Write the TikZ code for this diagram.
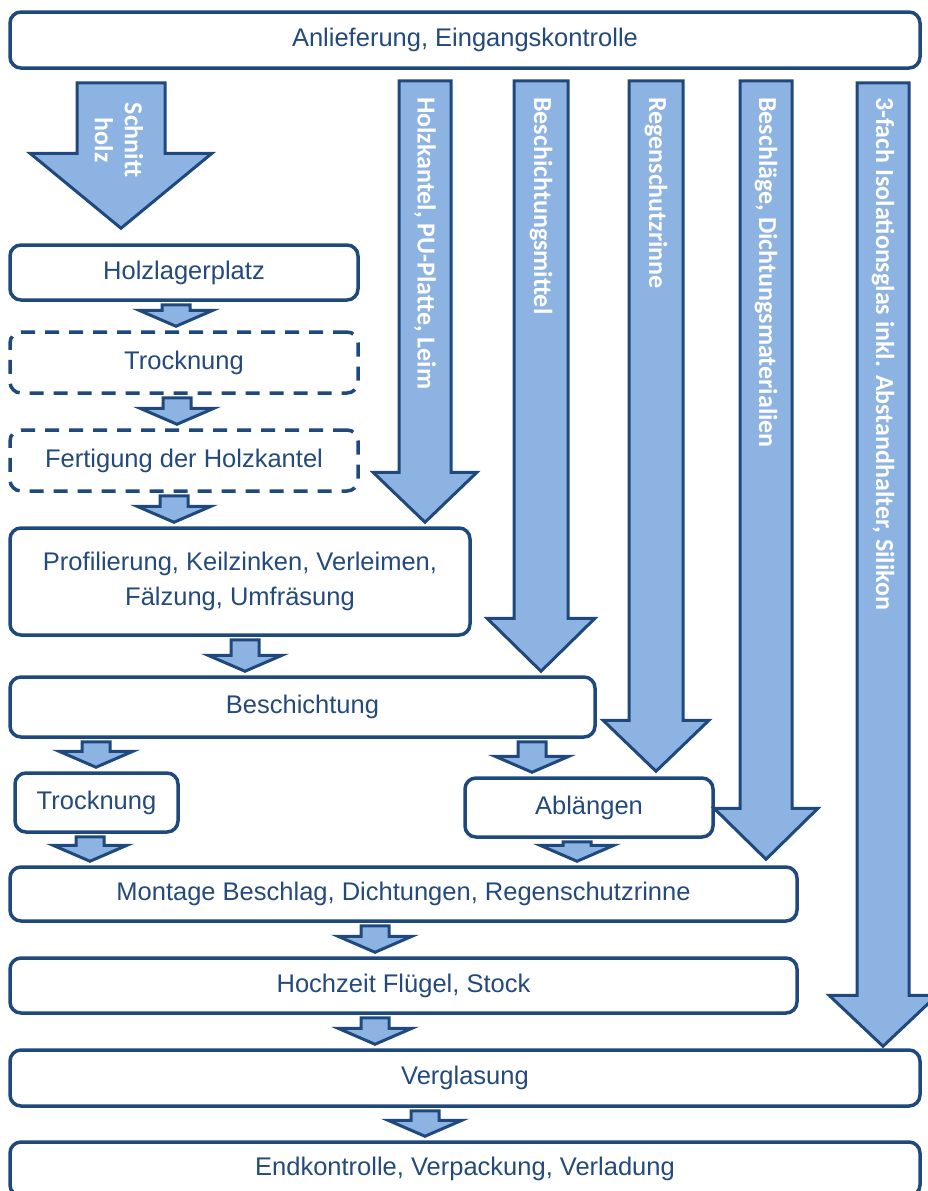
\documentclass[tikz,border=0pt]{standalone}
\usepackage{fontspec}
\setmainfont{Liberation Sans}
\newfontfamily\labelfont{Carlito}
\usetikzlibrary{calc,positioning}

\definecolor{boxblue}{RGB}{31,73,125}
\definecolor{textblue}{RGB}{36,74,124}
\definecolor{arrowblue}{RGB}{141,179,226}

% block arrow: x, from node, to node, top gap, tip gap, shaft half width, head half width, head length
\newcommand{\blockarrow}[8]{%
  \draw[arrowbody] ($(#1,0 |- #2.south)+(-#6,#4)$) -- ++(2*#6,0)
    -- ($(#1,0 |- #3.north)+(#6,-#5-#8)$) -- ++(#7-#6,0)
    -- ($(#1,0 |- #3.north)+(0,-#5)$)
    -- ($(#1,0 |- #3.north)+(-#7,-#5-#8)$) -- ++(#7-#6,0) -- cycle;}
\newcommand{\flowarrow}[3]{\blockarrow{#1}{#2}{#3}{3}{4}{14}{37}{16}}

\begin{document}
\begin{tikzpicture}[x=1pt,y=-1pt]
\tikzstyle{stepbox}=[draw=boxblue,line width=3.5pt,rounded corners=11pt,fill=white,text=textblue,inner sep=0pt,align=center,font=\fontsize{25.5}{35}\selectfont]
\tikzstyle{dashbox}=[stepbox,dash pattern=on 14pt off 10pt]
\tikzstyle{arrowbody}=[draw=boxblue,fill=arrowblue,line width=3pt]
\tikzstyle{arrowtext}=[text=white,rotate=-90,inner sep=0pt,align=center,font=\labelfont\bfseries\fontsize{26}{30}\selectfont]

\useasboundingbox (0,0) rectangle (928,1191);

% process steps
\node[stepbox,minimum width=910pt,minimum height=56pt] (anl) at (465,40) {Anlieferung, Eingangskontrolle};
\node[stepbox,minimum width=348pt,minimum height=55pt] (hlp) at (184,272.5) {Holzlagerplatz};
\node[dashbox,minimum width=348pt,minimum height=61pt] (trk1) at (184,362.5) {Trocknung};
\node[dashbox,minimum width=348pt,minimum height=61pt] (fhk) at (184,460.5) {Fertigung der Holzkantel};
\node[stepbox,minimum width=460pt,minimum height=107pt] (prf) at (240,581.5) {Profilierung, Keilzinken, Verleimen,\\Fälzung, Umfräsung};
\node[stepbox,minimum width=585pt,minimum height=60pt] (bes) at (302.5,707) {Beschichtung};
\node[stepbox,minimum width=163pt,minimum height=59pt] (trk2) at (96.5,802.5) {Trocknung};
\node[stepbox,minimum width=248pt,minimum height=59pt] (abl) at (589,807.5) {Ablängen};
\node[stepbox,minimum width=787pt,minimum height=54pt] (mon) at (403.5,894) {Montage Beschlag, Dichtungen, Regenschutzrinne};
\node[stepbox,minimum width=787pt,minimum height=55pt] (hoz) at (403.5,985.5) {Hochzeit Flügel, Stock};
\node[stepbox,minimum width=910pt,minimum height=56pt] (vgl) at (465,1078) {Verglasung};
\node[stepbox,minimum width=910pt,minimum height=54pt] (end) at (465,1169) {Endkontrolle, Verpackung, Verladung};

% material arrows
\blockarrow{121}{anl}{hlp}{13}{15}{44}{91}{75}
\blockarrow{425}{anl}{prf}{11}{4}{26}{52}{50}
\blockarrow{541}{anl}{bes}{11}{4}{27}{54}{53}
\blockarrow{656}{anl}{abl}{11}{5}{27}{53}{51}
\blockarrow{766}{anl}{mon}{11}{6}{26}{52}{51}
\blockarrow{883}{anl}{vgl}{13}{2}{26}{54}{51}

% flow arrows
\flowarrow{176}{hlp}{trk1}
\flowarrow{177}{trk1}{fhk}
\flowarrow{174}{fhk}{prf}
\flowarrow{245}{prf}{bes}
\flowarrow{96}{bes}{trk2}
\flowarrow{532}{bes}{abl}
\flowarrow{90}{trk2}{mon}
\flowarrow{577}{abl}{mon}
\flowarrow{375}{mon}{hoz}
\flowarrow{375}{hoz}{vgl}
\flowarrow{425}{vgl}{end}

% arrow labels
\node[arrowtext] (lschnitt) at (119,140) {Schnitt\\holz};
\node[arrowtext,anchor=west] (lkantel) at (425,97) {Holzkantel, PU-Platte, Leim};
\node[arrowtext,anchor=west] (lmittel) at (541,97) {Beschichtungsmittel};
\node[arrowtext,anchor=west] (lrinne) at (656,97) {Regenschutzrinne};
\node[arrowtext,anchor=west] (ldicht) at (766,97) {Beschläge, Dichtungsmaterialien};
\node[arrowtext,anchor=west] (lglas) at (883,97) {3-fach Isolationsglas inkl. Abstandhalter, Silikon};
\end{tikzpicture}
\end{document}
